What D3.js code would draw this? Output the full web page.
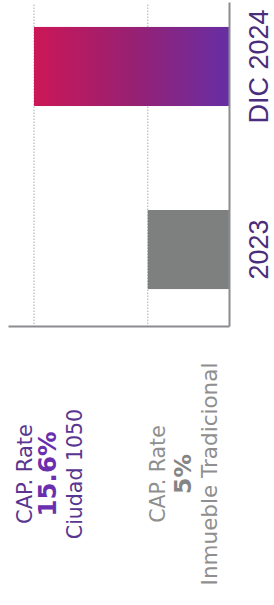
<!DOCTYPE html>
<html>
<head>
<meta charset="utf-8">
<script src="https://cdn.jsdelivr.net/npm/d3@7"></script>
<style>
  html, body { margin: 0; padding: 0; background: #fff; }
</style>
</head>
<body>
<div id="chart"></div>
<script>
// data
var categories = ["2023", "DIC 2024"];
var barValues = [5, 12];
var gridValues = [5, 12];
var capLabels = ["CAP. Rate", "CAP. Rate"];
var capValues = ["5%", "15.6%"];
var capNames = ["Inmueble Tradicional", "Ciudad 1050"];

var W = 274, H = 605;

var svg = d3.select("#chart").append("svg")
    .attr("width", W)
    .attr("height", H);

var defs = svg.append("defs");
var grad = defs.append("linearGradient")
    .attr("id", "barGrad")
    .attr("x1", 0).attr("y1", 0).attr("x2", 0).attr("y2", 1);
grad.append("stop").attr("offset", "0%").attr("stop-color", "#cb1757");
grad.append("stop").attr("offset", "50%").attr("stop-color", "#982072");
grad.append("stop").attr("offset", "100%").attr("stop-color", "#672ea4");

// chart is drawn upright then turned a quarter turn
var g = svg.append("g")
    .attr("transform", "translate(0," + H + ") rotate(-90)");

var x = d3.scaleBand()
    .domain(categories)
    .range([278, 602])
    .paddingInner(0.568)
    .paddingOuter(0.169)
    .align(0.613);

var y = d3.scaleLinear()
    .domain([0, 13.6])
    .range([229, 8]);

// dotted grid
g.selectAll("line.grid")
    .data(gridValues)
    .enter()
    .append("line")
    .attr("class", "grid")
    .attr("x1", 278)
    .attr("x2", 602)
    .attr("y1", function(d) { return y(d); })
    .attr("y2", function(d) { return y(d); })
    .attr("stroke", "#b9b9bd")
    .attr("stroke-width", 1.2)
    .attr("stroke-dasharray", "1.5,1.5");

// bars
g.selectAll("rect.bar")
    .data(categories)
    .enter()
    .append("rect")
    .attr("class", "bar")
    .attr("x", function(d) { return x(d); })
    .attr("width", x.bandwidth())
    .attr("y", function(d, i) { return y(barValues[i]); })
    .attr("height", function(d, i) { return y(0) - y(barValues[i]); })
    .attr("fill", function(d, i) { return i == 1 ? "url(#barGrad)" : "#7e8080"; });

// left axis (just the line)
var yAxis = g.append("g")
    .attr("transform", "translate(278,0)")
    .call(d3.axisLeft(y).tickValues([]).tickSizeOuter(0));
yAxis.select(".domain").attr("stroke", "#8b8b92").attr("stroke-width", 2);

// bottom axis with category labels
var xAxis = g.append("g")
    .attr("transform", "translate(0," + y(0) + ")")
    .call(d3.axisBottom(x).tickSize(0).tickSizeOuter(0));
xAxis.select(".domain").attr("stroke", "#8b8b92").attr("stroke-width", 2);
xAxis.selectAll(".tick text")
    .attr("y", 39)
    .attr("dy", 0)
    .attr("fill", "#4a2d7c")
    .style("font-family", "'Liberation Sans', Arial, sans-serif")
    .style("font-size", "27px");

// CAP rate notes
var cx = 131;
var notes = [
  { lines: [capLabels[1], capValues[1], capNames[1]], ys: [32, 56, 82],
    sizes: [21, 24.5, 20.5], weights: [400, 700, 400],
    colors: ["#583590", "#6a2fae", "#583590"] },
  { lines: [capLabels[0], capValues[0], capNames[0]], ys: [165, 191, 217],
    sizes: [20.5, 23.5, 21.5], weights: [400, 700, 400],
    colors: ["#8f8f8f", "#858585", "#8f8f8f"] }
];

notes.forEach(function(n) {
  n.lines.forEach(function(t, i) {
    g.append("text")
      .attr("x", cx)
      .attr("y", n.ys[i])
      .attr("text-anchor", "middle")
      .attr("fill", n.colors[i])
      .style("font-family", "'DejaVu Sans', sans-serif")
      .style("font-size", n.sizes[i] + "px")
      .style("font-weight", n.weights[i])
      .text(t);
  });
});
</script>
</body>
</html>
